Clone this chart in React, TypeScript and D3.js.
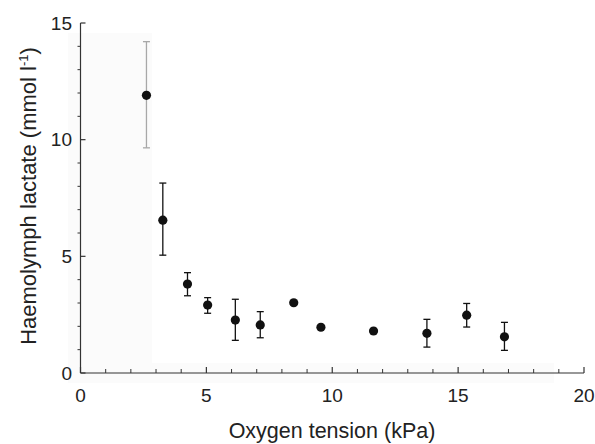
import React from "react";
import * as d3 from "d3";

const oxygen = [2.62, 3.27, 4.25, 5.05, 6.15, 7.14, 8.47, 9.55, 11.64, 13.76, 15.34, 16.84];
const lactate = [11.9, 6.55, 3.81, 2.91, 2.27, 2.06, 3.01, 1.96, 1.8, 1.7, 2.48, 1.55];
const errHigh = [14.2, 8.14, 4.3, 3.23, 3.16, 2.63, null, null, null, 2.3, 2.98, 2.17];
const errLow = [9.65, 5.05, 3.31, 2.56, 1.4, 1.51, null, null, null, 1.11, 1.97, 0.97];
const xTicks = [0, 5, 10, 15, 20];
const yTicks = [0, 5, 10, 15];

const W = 595;
const H = 444;

export default function App() {
  const x = d3.scaleLinear().domain([0, 20]).range([80.5, 584]);
  const y = d3.scaleLinear().domain([0, 15]).range([373, 23]);
  const font = "'Liberation Sans', Arial, Helvetica, sans-serif";
  const axisColor = "#333";
  const xMinor = d3.range(1, 20).filter((v) => v % 5 !== 0);
  const yMinor = d3.range(1, 15).filter((v) => v % 5 !== 0);

  return (
    <svg width={W} height={H} style={{ position: "absolute", left: 0, top: 0, background: "#fff" }}>
      {/* faint scan shading */}
      <rect x={68} y={33} width={84} height={350} fill="#fbfbfb" />
      <rect x={152} y={363} width={402} height={20} fill="#fbfbfb" />

      {/* axes */}
      <line x1={x(0)} x2={x(0)} y1={y(0)} y2={y(15)} stroke={axisColor} strokeWidth={1.2} />
      <line x1={x(0)} x2={x(20)} y1={y(0)} y2={y(0)} stroke={axisColor} strokeWidth={1.2} />

      {/* y ticks */}
      {yTicks.map((t) => (
        <g key={"yt" + t}>
          <line x1={x(0)} x2={x(0) + 5} y1={y(t)} y2={y(t)} stroke={axisColor} strokeWidth={1.2} />
          <text x={72} y={y(t)} dy="0.35em" textAnchor="end" fontSize={19} fontFamily={font} fill="#222">
            {t}
          </text>
        </g>
      ))}
      {yMinor.map((t) => (
        <line key={"ym" + t} x1={x(0) - 3} x2={x(0)} y1={y(t)} y2={y(t)} stroke={axisColor} strokeWidth={1} />
      ))}

      {/* x ticks */}
      {xTicks.map((t) => (
        <g key={"xt" + t}>
          <line x1={x(t)} x2={x(t)} y1={y(0)} y2={y(0) - 6} stroke={axisColor} strokeWidth={1.2} />
          <text x={x(t)} y={402} textAnchor="middle" fontSize={19} fontFamily={font} fill="#222">
            {t}
          </text>
        </g>
      ))}
      {xMinor.map((t) => (
        <line key={"xm" + t} x1={x(t)} x2={x(t)} y1={y(0)} y2={y(0) - 4} stroke={axisColor} strokeWidth={1} />
      ))}

      {/* error bars */}
      {oxygen.map((o, i) => {
        const hi = errHigh[i];
        const lo = errLow[i];
        if (hi == null || lo == null) return null;
        const c = i === 0 ? "#a8a8a8" : "#111";
        const cx = x(o);
        return (
          <g key={"e" + i} stroke={c} strokeWidth={1.3}>
            <line x1={cx} x2={cx} y1={y(hi)} y2={y(lo)} />
            <line x1={cx - 3.5} x2={cx + 3.5} y1={y(hi)} y2={y(hi)} />
            <line x1={cx - 3.5} x2={cx + 3.5} y1={y(lo)} y2={y(lo)} />
          </g>
        );
      })}

      {/* points */}
      {oxygen.map((o, i) => (
        <circle key={"p" + i} cx={x(o)} cy={y(lactate[i])} r={4.6} fill="#111" />
      ))}

      {/* axis titles */}
      <text x={332} y={438} textAnchor="middle" fontSize={21.5} fontFamily={font} fill="#222">
        Oxygen tension (kPa)
      </text>
      <text
        transform={`translate(36,196) rotate(-90)`}
        textAnchor="middle"
        fontSize={22}
        fontFamily={font}
        fill="#222"
      >
        Haemolymph lactate (mmol l
        <tspan dy={-8} fontSize={13}>-1</tspan>
        <tspan dy={8}>)</tspan>
      </text>
    </svg>
  );
}
